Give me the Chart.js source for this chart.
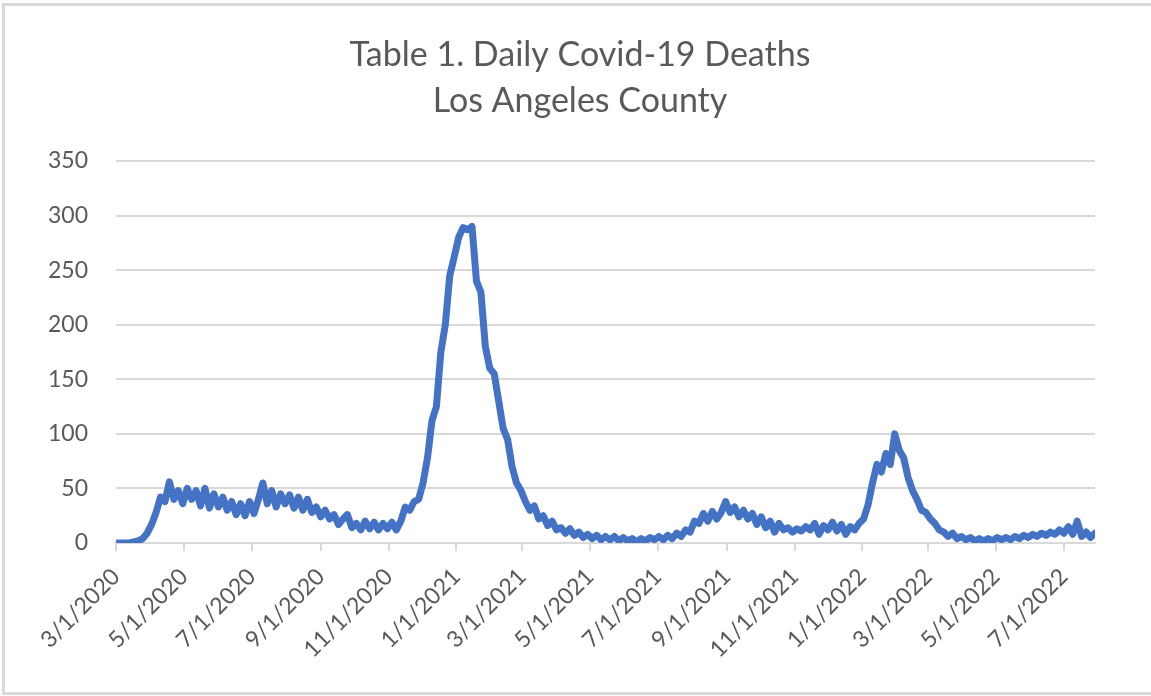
<!DOCTYPE html>
<html><head><meta charset="utf-8">
<script src="https://cdn.jsdelivr.net/npm/chart.js@4.4.0/dist/chart.umd.min.js"></script>
<style>
html,body{margin:0;padding:0;background:#fff;}
#wrap{position:relative;width:1151px;height:696px;overflow:hidden;background:#fff;}
#frame{position:absolute;left:2px;top:3px;width:1170px;height:692px;box-sizing:border-box;border:3px solid #d9d9d9;pointer-events:none;}
canvas{position:absolute;left:0;top:0;}
</style></head><body>
<div id="wrap"><canvas id="c" width="1151" height="696"></canvas><div id="frame"></div></div>
<script>
// Daily Covid-19 deaths, Los Angeles County, read every 4 days from 3/1/2020
const startDate = '3/1/2020';
const stepDays = 4;
const deaths = [
  0,0,0,0,1,2,4,9,17,28,
  42,38,56,40,48,36,50,40,48,34,
  50,32,45,33,42,30,38,26,36,25,
  38,27,40,55,36,48,33,45,36,44,
  32,42,30,40,28,33,24,30,22,26,
  17,22,26,14,18,12,20,13,19,12,
  18,13,19,12,20,33,30,38,40,55,
  78,112,125,175,200,245,262,280,289,287,
  290,240,230,180,160,155,130,105,95,70,
  55,48,38,30,34,22,25,16,20,12,
  14,9,13,7,10,5,8,4,7,3,
  6,3,6,2,5,2,4,1,4,2,
  5,3,6,3,7,4,9,6,12,10,
  20,18,27,20,29,22,28,38,28,33,
  24,30,22,27,17,24,14,20,10,18,
  12,14,10,13,11,15,12,18,8,16,
  12,19,11,17,8,15,12,18,22,35,
  55,72,65,82,72,100,85,78,60,48,
  40,30,28,22,18,12,10,6,9,4,
  6,3,5,2,4,2,4,2,5,3,
  5,3,6,4,7,5,8,6,9,7,
  10,8,12,9,15,8,20,6,10,5,9
];
const tickLabels = ['3/1/2020','5/1/2020','7/1/2020','9/1/2020','11/1/2020','1/1/2021','3/1/2021',
  '5/1/2021','7/1/2021','9/1/2021','11/1/2021','1/1/2022','3/1/2022','5/1/2022','7/1/2022'];
const yTicks = [0,50,100,150,200,250,300,350];
const titleLines = ['Table 1. Daily Covid-19 Deaths', 'Los Angeles County'];

function toUTC(s){ const p = s.split('/').map(Number); return Date.UTC(p[2], p[0]-1, p[1]); }
const t0 = toUTC(startDate);
const dayOf = s => Math.round((toUTC(s) - t0) / 86400000);
const dates = deaths.map((_, i) => {
  const d = new Date(t0 + i * stepDays * 86400000);
  return (d.getUTCMonth()+1) + '/' + d.getUTCDate() + '/' + d.getUTCFullYear();
});
const tickDays = tickLabels.map(dayOf);
const points = deaths.map((v, i) => ({x: dayOf(dates[i]), y: v}));
const lastDay = dayOf(dates[dates.length-1]);

const FONT = 'Lato, "Open Sans", sans-serif';

// Title drawn as canvas text, centred like the Excel chart title
const titlePlugin = {
  id: 'xlTitle',
  afterDraw(chart) {
    const c = chart.ctx;
    c.save();
    c.fillStyle = '#595959';
    c.font = '34px ' + FONT;
    c.textAlign = 'center';
    c.textBaseline = 'middle';
    c.fillText(titleLines[0], 580, 55);
    c.fillText(titleLines[1], 580, 101);
    c.restore();
  }
};

new Chart(document.getElementById('c').getContext('2d'), {
  type: 'line',
  data: { datasets: [{ data: points, borderColor: '#4472c4', borderWidth: 7, pointRadius: 0,
    tension: 0, borderJoinStyle: 'round', borderCapStyle: 'round', fill: false }] },
  options: {
    responsive: false, animation: false, devicePixelRatio: 1,
    layout: { padding: { left: 0, right: 56, top: 161, bottom: 0 } },
    plugins: { legend: { display: false }, tooltip: { enabled: false }, title: { display: false } },
    scales: {
      x: { type: 'linear', min: 0, max: lastDay,
        afterBuildTicks: s => { s.ticks = tickDays.map(v => ({ value: v })); },
        afterFit: s => { s.height = 153; },
        ticks: { autoSkip: false, minRotation: 45, maxRotation: 45, color: '#595959',
          font: { family: FONT, size: 23 }, padding: 12,
          callback: (v, i) => tickLabels[i] },
        grid: { drawOnChartArea: false, drawTicks: true, tickLength: 8, color: '#d9d9d9', lineWidth: 2 },
        border: { color: '#d9d9d9', width: 2 } },
      y: { min: 0, max: 350,
        afterBuildTicks: s => { s.ticks = yTicks.map(v => ({ value: v })); },
        afterFit: s => { s.width = 116; },
        ticks: { color: '#595959', font: { family: FONT, size: 23 }, padding: 28 },
        grid: { color: '#d9d9d9', lineWidth: 2, drawTicks: false },
        border: { display: false } }
    }
  },
  plugins: [titlePlugin]
});
</script>
</body></html>
